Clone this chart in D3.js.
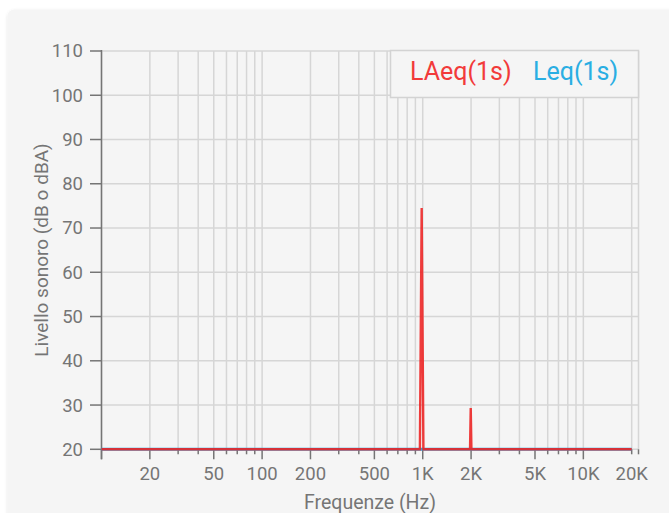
<!DOCTYPE html>
<html>
<head>
<meta charset="utf-8">
<script src="https://cdn.jsdelivr.net/npm/d3@7"></script>
<style>
  html, body { margin: 0; padding: 0; background: #ffffff; }
  svg { display: block; font-family: Roboto, "Noto Sans", sans-serif; }
</style>
</head>
<body>
<svg id="chart" width="669" height="513"></svg>
<script>
// ---- data ----
const xDomain = [10, 22050];
const yTicks = [20, 30, 40, 50, 60, 70, 80, 90, 100, 110];
const xGridValues = [10, 20, 30, 40, 50, 60, 70, 80, 90, 100, 200, 300, 400, 500, 600, 700, 800, 900,
  1000, 2000, 3000, 4000, 5000, 6000, 7000, 8000, 9000, 10000, 20000, 22050];
const xLabelValues = [20, 50, 100, 200, 500, 1000, 2000, 5000, 10000, 20000];
const xLabelTexts = ["20", "50", "100", "200", "500", "1K", "2K", "5K", "10K", "20K"];
const xMajorTicks = [10, 20, 50, 100, 200, 500, 1000, 2000, 5000, 10000];
const laeqFreq = [10, 960, 985, 1010, 1970, 1990, 2010, 20000];
const laeqLevel = [20, 20, 74.5, 20, 20, 29.3, 20, 20];
const leqFreq = [10, 20000];
const leqLevel = [20, 20];
const seriesNames = ["LAeq(1s)", "Leq(1s)"];

// ---- drawing ----
const svg = d3.select("#chart");
const gray = "#757575";
const gridColor = "#d6d6d6";

const defs = svg.append("defs");
const f = defs.append("filter").attr("id", "shadow").attr("x", "-5%").attr("y", "-5%").attr("width", "110%").attr("height", "110%");
f.append("feDropShadow").attr("dx", 0).attr("dy", 1).attr("stdDeviation", 1.5).attr("flood-color", "#000").attr("flood-opacity", 0.12);

svg.append("rect").attr("x", 7.5).attr("y", 9.5).attr("width", 720).attr("height", 560)
  .attr("rx", 7).attr("fill", "#f5f5f5").attr("filter", "url(#shadow)");

const x = d3.scaleLog().domain(xDomain).range([101.5, 638.5]);
const y = d3.scaleLinear().domain([20, 110]).range([449.3, 51]);

// grid
const grid = svg.append("g");
grid.selectAll("line.h").data(yTicks).join("line")
  .attr("x1", x(xDomain[0])).attr("x2", x(xDomain[1]))
  .attr("y1", d => y(d)).attr("y2", d => y(d))
  .attr("stroke", gridColor).attr("stroke-width", 1.5);
grid.selectAll("line.v").data(xGridValues).join("line")
  .attr("x1", d => x(d)).attr("x2", d => x(d))
  .attr("y1", y(110)).attr("y2", y(20))
  .attr("stroke", gridColor).attr("stroke-width", 1.5);

// x ticks
const xt = svg.append("g");
xt.selectAll("line").data(xGridValues).join("line")
  .attr("x1", d => x(d)).attr("x2", d => x(d))
  .attr("y1", y(20)).attr("y2", d => y(20) + (xMajorTicks.includes(d) ? 10 : 5))
  .attr("stroke", gray).attr("stroke-width", 1.5);
xt.selectAll("text").data(xLabelValues).join("text")
  .attr("x", d => x(d)).attr("y", 479.5)
  .attr("text-anchor", "middle").attr("fill", gray).attr("font-size", 18.5)
  .text((d, i) => xLabelTexts[i]);

// y axis
const ya = svg.append("g");
ya.append("line").attr("x1", x(xDomain[0])).attr("x2", x(xDomain[0]))
  .attr("y1", y(110) - 1).attr("y2", y(20) + 10).attr("stroke", gray).attr("stroke-width", 1.5);
ya.selectAll("line.t").data(yTicks).join("line")
  .attr("x1", 90).attr("x2", x(xDomain[0]))
  .attr("y1", d => y(d)).attr("y2", d => y(d))
  .attr("stroke", gray).attr("stroke-width", 1.5);
ya.selectAll("text").data(yTicks).join("text")
  .attr("x", 83).attr("y", d => y(d)).attr("dy", "0.35em")
  .attr("text-anchor", "end").attr("fill", gray).attr("font-size", 18.5)
  .text(d => d);

// axis titles
svg.append("text").attr("x", 370).attr("y", 509).attr("text-anchor", "middle")
  .attr("fill", gray).attr("font-size", 19.5).text("Frequenze (Hz)");
svg.append("text").attr("transform", "translate(48,250) rotate(-90)").attr("text-anchor", "middle")
  .attr("fill", gray).attr("font-size", 19).text("Livello sonoro (dB o dBA)");

// series
const line = d3.line().x(d => x(d[0])).y(d => y(d[1]));
svg.append("path").datum(leqFreq.map((f, i) => [f, leqLevel[i]]))
  .attr("d", line).attr("fill", "none").attr("stroke", "#2aa7df").attr("stroke-width", 3);
svg.append("path").datum(laeqFreq.map((f, i) => [f, laeqLevel[i]]))
  .attr("d", line).attr("fill", "none").attr("stroke", "#ee2222").attr("stroke-width", 2.4)
  .attr("stroke-opacity", 0.88).attr("stroke-linejoin", "miter");

// legend
const lg = svg.append("g");
lg.append("rect").attr("x", 390.5).attr("y", 50.5).attr("width", 248).attr("height", 47)
  .attr("fill", "#f5f5f5").attr("stroke", "#d3d3d3").attr("stroke-width", 1.5);
lg.append("text").attr("x", 410).attr("y", 80).attr("fill", "#f23a3a").attr("font-size", 25).text(seriesNames[0]);
lg.append("text").attr("x", 533).attr("y", 80).attr("fill", "#2aaee3").attr("font-size", 25).text(seriesNames[1]);
</script>
</body>
</html>
